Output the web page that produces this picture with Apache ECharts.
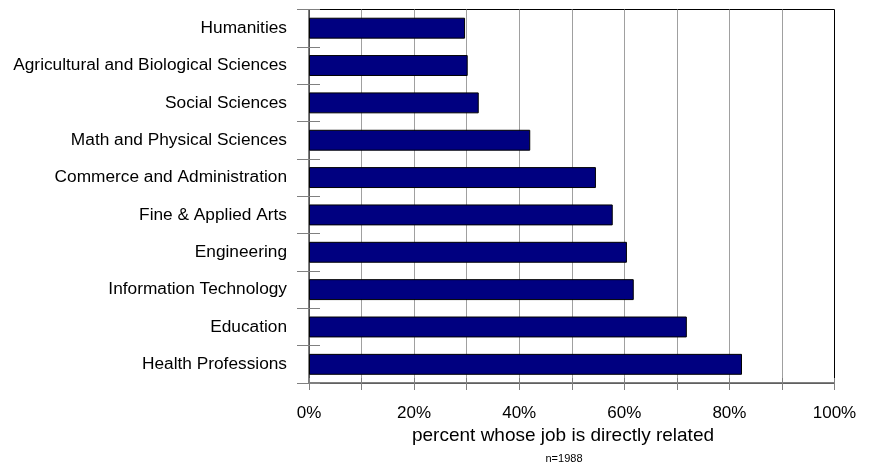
<!DOCTYPE html>
<html>
<head>
<meta charset="utf-8">
<script src="https://cdn.jsdelivr.net/npm/echarts@6/dist/echarts.min.js"></script>
<style>
html,body{margin:0;padding:0;background:#fff;}
#c{width:870px;height:470px;}
</style>
</head>
<body>
<div id="c"></div>
<script>
const categories = [
  'Humanities',
  'Agricultural and Biological Sciences',
  'Social Sciences',
  'Math and Physical Sciences',
  'Commerce and Administration',
  'Fine & Applied Arts',
  'Engineering',
  'Information Technology',
  'Education',
  'Health Professions'
];
const percentDirectlyRelated = [29.7, 30.2, 32.3, 42.1, 54.6, 57.8, 60.5, 61.8, 71.9, 82.4];
const axisTitle = 'percent whose job is directly related';
const sampleNote = 'n=1988';

const FONT = "'Liberation Sans', Arial, sans-serif";
const chart = echarts.init(document.getElementById('c'), null, {renderer: 'canvas'});
chart.setOption({
  animation: false,
  backgroundColor: '#fff',
  grid: {
    left: 309, right: 35.5, top: 9.5, bottom: 87,
    show: true, borderColor: '#000', borderWidth: 1, backgroundColor: 'transparent'
  },
  xAxis: [
    {
      type: 'value', min: 0, max: 100, interval: 10, position: 'bottom',
      axisLine: {show: true, lineStyle: {color: '#606060', width: 1}},
      axisTick: {show: true, inside: false, length: 7, lineStyle: {color: '#808080'}},
      axisLabel: {
        show: true, margin: 22, fontSize: 17, color: '#000', fontFamily: FONT,
        formatter: v => (v % 20 === 0 ? v + '%' : '')
      },
      splitLine: {show: true, showMinLine: false, showMaxLine: false, lineStyle: {color: '#a0a0a0', width: 1}}
    },
    {
      type: 'value', min: 0, max: 100, interval: 10, position: 'bottom',
      axisLine: {show: false},
      axisTick: {show: true, inside: true, length: 5, lineStyle: {color: '#808080'}},
      axisLabel: {show: false},
      splitLine: {show: false}
    }
  ],
  yAxis: [
    {
      type: 'category', data: categories, inverse: true, position: 'left',
      axisLine: {show: true, lineStyle: {color: '#505050', width: 1}},
      axisTick: {show: true, inside: false, length: 12, alignWithLabel: false, lineStyle: {color: '#808080'}},
      axisLabel: {margin: 22, fontSize: 17.3, color: '#000', fontFamily: FONT},
      splitLine: {show: false}
    },
    {
      type: 'category', data: categories, inverse: true, position: 'left',
      axisLine: {show: false},
      axisTick: {show: true, inside: true, length: 11, alignWithLabel: false, lineStyle: {color: '#808080'}},
      axisLabel: {show: false},
      splitLine: {show: false}
    }
  ],
  series: [{
    type: 'bar',
    xAxisIndex: 0, yAxisIndex: 0,
    data: percentDirectlyRelated,
    barCategoryGap: '44%',
    itemStyle: {color: '#000080', borderColor: '#000', borderWidth: 1}
  }],
  graphic: [
    {
      type: 'text', x: 563, y: 436,
      style: {text: axisTitle, font: '19px ' + FONT, fill: '#000', textAlign: 'center', textVerticalAlign: 'middle'}
    },
    {
      type: 'text', x: 564, y: 459,
      style: {text: sampleNote, font: '11px ' + FONT, fill: '#000', textAlign: 'center', textVerticalAlign: 'middle'}
    }
  ]
});
</script>
</body>
</html>
